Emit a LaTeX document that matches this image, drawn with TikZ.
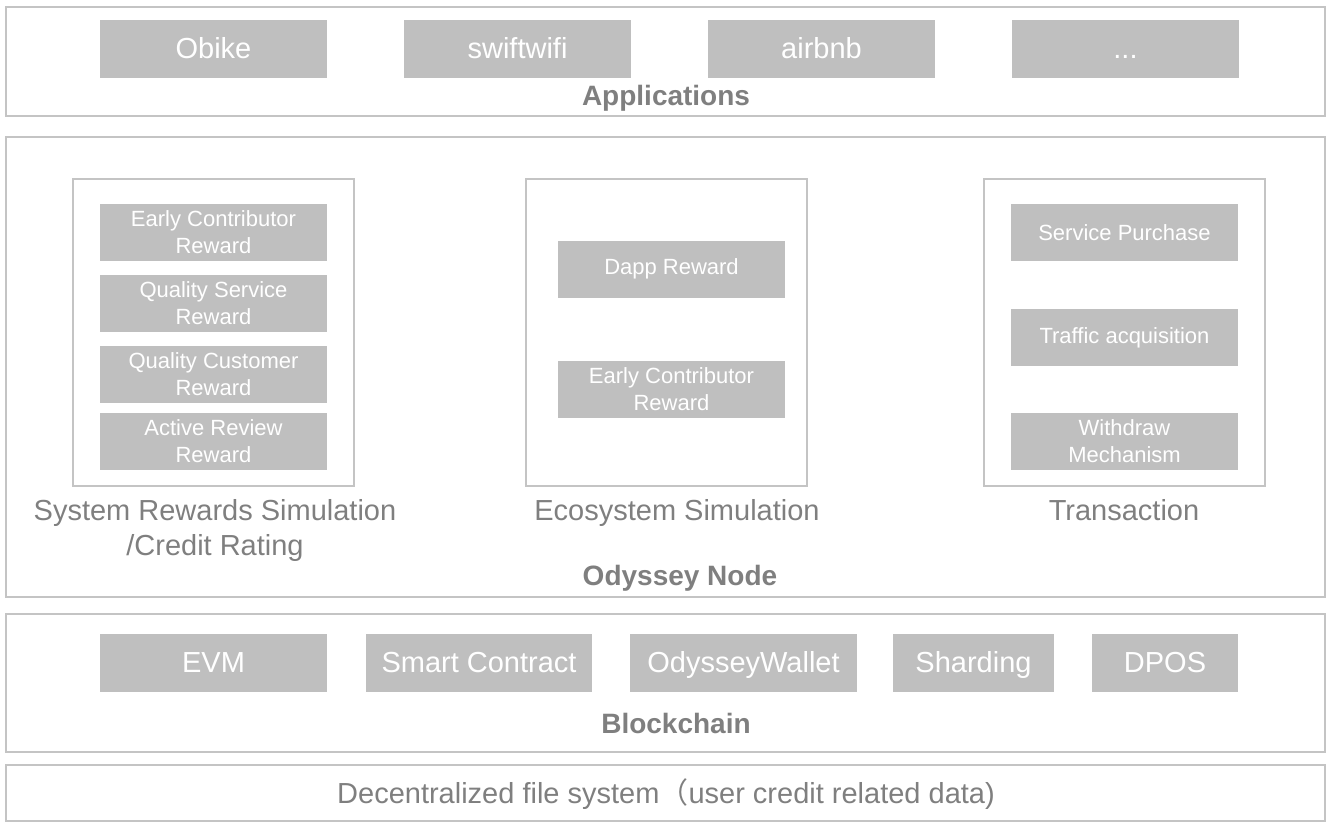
\documentclass[tikz,border=0pt]{standalone}
\usepackage{fontspec}
\setmainfont{Liberation Sans}
\newfontfamily\cjk{Noto Sans CJK SC}
\definecolor{boxgray}{RGB}{191,191,191}
\definecolor{linegray}{RGB}{196,196,196}
\definecolor{txtgray}{RGB}{127,127,127}
\begin{document}
\begin{tikzpicture}[x=1pt,y=-1pt,
  layer/.style={draw=linegray,line width=2pt,inner sep=0pt,minimum width=1319pt},
  group/.style={draw=linegray,line width=2pt,inner sep=0pt,minimum width=281pt,minimum height=307pt},
  bigbox/.style={fill=boxgray,text=white,inner sep=0pt,minimum height=58pt,text height=21pt,text depth=2pt,font=\fontsize{29}{34}\selectfont},
  smallbox/.style={fill=boxgray,text=white,inner sep=0pt,minimum width=227pt,minimum height=57pt,align=center,font=\fontsize{22}{27}\selectfont},
  title/.style={text=txtgray,anchor=base,inner sep=0pt,font=\bfseries\fontsize{28}{34}\selectfont},
  caption/.style={text=txtgray,anchor=base,inner sep=0pt,align=center,font=\fontsize{29}{35}\selectfont}]
\useasboundingbox (0,0) rectangle (1332,828);
% Applications layer
\node[layer,minimum height=109pt] (apps) at (665.5,61.5) {};
\node[bigbox,minimum width=227pt] (obike) at (213.5,49) {Obike};
\node[bigbox,minimum width=227pt] (swift) at (517.5,49) {swiftwifi};
\node[bigbox,minimum width=227pt] (airbnb) at (821.5,49) {airbnb};
\node[bigbox,minimum width=227pt] (more) at (1125.5,49) {...};
\node[title] (appst) at (666,105) {Applications};
% Odyssey node layer
\node[layer,minimum height=460pt] (node) at (665.5,367) {};
\node[group] (g1) at (213.5,332.5) {};
\node[smallbox] (ecr1) at (213.5,232.5) {Early Contributor\\Reward};
\node[smallbox] (qsr) at (213.5,303.5) {Quality Service\\Reward};
\node[smallbox] (qcr) at (213.5,374.5) {Quality Customer\\Reward};
\node[smallbox] (arr) at (213.5,441.5) {Active Review\\Reward};
\node[group] (g2) at (666.5,332.5) {};
\node[smallbox] (dapp) at (671.5,269) {Dapp Reward};
\node[smallbox] (ecr2) at (671.5,389) {Early Contributor\\Reward};
\node[group] (g3) at (1124.5,332.5) {};
\node[smallbox] (sp) at (1124.5,232.5) {Service Purchase};
\node[smallbox] (ta) at (1124.5,337.5) {Traffic acquisition};
\node[smallbox] (wm) at (1124.5,441) {Withdraw\\Mechanism};
\node[caption] (c1) at (215,555) {System Rewards Simulation\\/Credit Rating};
\node[caption] (c2) at (677,520) {Ecosystem Simulation};
\node[caption] (c3) at (1124,520) {Transaction};
\node[title] (nodet) at (680,585) {Odyssey Node};
% Blockchain layer
\node[layer,minimum height=138pt] (chain) at (665.5,683) {};
\node[bigbox,minimum width=227pt] (evm) at (213.5,663) {EVM};
\node[bigbox,minimum width=226pt] (sc) at (479,663) {Smart Contract};
\node[bigbox,minimum width=227pt] (ow) at (743.5,663) {OdysseyWallet};
\node[bigbox,minimum width=161pt] (shard) at (973.5,663) {Sharding};
\node[bigbox,minimum width=146pt] (dpos) at (1165,663) {DPOS};
\node[title] (chaint) at (676,733) {Blockchain};
% File system layer
\node[layer,minimum height=56pt] (dfs) at (665.5,793) {};
\node[caption] (dfst) at (666,803) {Decentralized file system{\cjk （}user credit related data)};
\end{tikzpicture}
\end{document}
